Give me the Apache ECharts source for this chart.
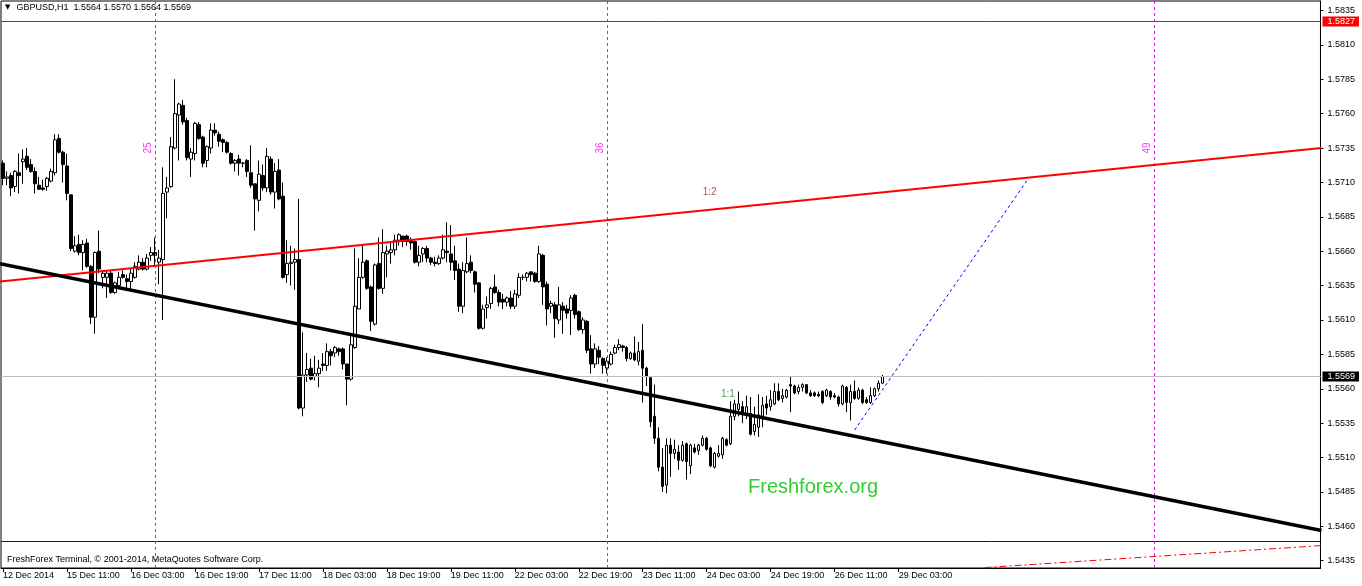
<!DOCTYPE html>
<html><head><meta charset="utf-8">
<script src="https://cdn.jsdelivr.net/npm/echarts@6/dist/echarts.min.js"></script>
<style>html,body{margin:0;padding:0;background:#fff}#c{width:1362px;height:586px}</style>
</head><body><div id="c"></div>
<script>
const symbolName = 'GBPUSD,H1';
// bars: [open, high, low, close]
const bars = [
[1.5724,1.5726,1.5708,1.5713],[1.5713,1.5718,1.5708,1.5714],[1.5715,1.5717,1.5700,1.5706],[1.5707,1.5719,1.5703,1.5718],
[1.5717,1.5731,1.5702,1.5715],[1.5725,1.5734,1.5709,1.5727],[1.5729,1.5735,1.5719,1.5721],[1.5723,1.5727,1.5717,1.5718],
[1.5718,1.5721,1.5702,1.5709],[1.5708,1.5714,1.5705,1.5705],[1.5706,1.5712,1.5704,1.5705],[1.5707,1.5714,1.5704,1.5713],
[1.5711,1.5720,1.5710,1.5718],[1.5717,1.5745,1.5715,1.5741],[1.5742,1.5745,1.5731,1.5732],[1.5732,1.5733,1.5710,1.5723],
[1.5722,1.5731,1.5697,1.5702],[1.5701,1.5701,1.5660,1.5662],[1.5660,1.5671,1.5659,1.5664],[1.5665,1.5672,1.5657,1.5659],
[1.5659,1.5668,1.5646,1.5665],[1.5666,1.5669,1.5648,1.5649],[1.5649,1.5650,1.5607,1.5612],[1.5612,1.5660,1.5600,1.5659],
[1.5660,1.5675,1.5644,1.5647],[1.5641,1.5646,1.5633,1.5644],[1.5641,1.5646,1.5626,1.5644],[1.5644,1.5646,1.5629,1.5630],
[1.5630,1.5638,1.5629,1.5637],[1.5635,1.5645,1.5634,1.5641],[1.5643,1.5646,1.5640,1.5641],[1.5640,1.5643,1.5633,1.5638],
[1.5638,1.5647,1.5632,1.5644],[1.5641,1.5652,1.5640,1.5649],[1.5647,1.5657,1.5646,1.5652],[1.5652,1.5655,1.5646,1.5647],
[1.5647,1.5658,1.5646,1.5655],[1.5657,1.5663,1.5653,1.5659],[1.5659,1.5670,1.5649,1.5657],[1.5652,1.5661,1.5636,1.5655],
[1.5654,1.5721,1.5610,1.5702],[1.5703,1.5714,1.5684,1.5706],[1.5707,1.5743,1.5706,1.5736],[1.5735,1.5785,1.5734,1.5760],
[1.5759,1.5768,1.5726,1.5767],[1.5766,1.5770,1.5752,1.5754],[1.5755,1.5757,1.5726,1.5728],[1.5727,1.5735,1.5714,1.5732],
[1.5731,1.5754,1.5726,1.5753],[1.5752,1.5754,1.5741,1.5742],[1.5743,1.5744,1.5721,1.5724],[1.5726,1.5737,1.5721,1.5736],
[1.5735,1.5753,1.5731,1.5748],[1.5748,1.5753,1.5744,1.5746],[1.5745,1.5747,1.5736,1.5740],[1.5741,1.5742,1.5732,1.5739],
[1.5739,1.5740,1.5731,1.5732],[1.5731,1.5732,1.5723,1.5724],[1.5724,1.5727,1.5718,1.5726],[1.5727,1.5730,1.5715,1.5724],
[1.5724,1.5725,1.5721,1.5724],[1.5726,1.5727,1.5714,1.5718],[1.5717,1.5737,1.5706,1.5708],[1.5709,1.5709,1.5675,1.5698],
[1.5697,1.5726,1.5689,1.5716],[1.5715,1.5723,1.5704,1.5706],[1.5706,1.5735,1.5703,1.5729],[1.5727,1.5729,1.5701,1.5703],
[1.5703,1.5724,1.5691,1.5718],[1.5719,1.5727,1.5697,1.5698],[1.5700,1.5710,1.5640,1.5641],[1.5643,1.5668,1.5637,1.5651],
[1.5651,1.5664,1.5635,1.5652],[1.5652,1.5662,1.5632,1.5654],[1.5654,1.5698,1.5545,1.5546],[1.5546,1.5601,1.5540,1.5570],
[1.5570,1.5586,1.5565,1.5574],[1.5575,1.5582,1.5566,1.5567],[1.5569,1.5584,1.5566,1.5571],[1.5571,1.5581,1.5561,1.5575],
[1.5578,1.5586,1.5573,1.5577],[1.5577,1.5593,1.5573,1.5587],[1.5587,1.5589,1.5577,1.5584],[1.5586,1.5591,1.5583,1.5590],
[1.5589,1.5590,1.5584,1.5587],[1.5589,1.5590,1.5574,1.5578],[1.5578,1.5578,1.5548,1.5567],[1.5567,1.5599,1.5566,1.5592],
[1.5590,1.5662,1.5589,1.5620],[1.5618,1.5655,1.5618,1.5641],[1.5641,1.5665,1.5640,1.5652],[1.5653,1.5654,1.5632,1.5633],
[1.5634,1.5635,1.5602,1.5609],[1.5607,1.5651,1.5606,1.5650],[1.5651,1.5670,1.5632,1.5633],[1.5633,1.5676,1.5629,1.5659],
[1.5658,1.5664,1.5641,1.5660],[1.5659,1.5667,1.5651,1.5661],[1.5661,1.5672,1.5657,1.5668],[1.5668,1.5673,1.5664,1.5672],
[1.5671,1.5671,1.5663,1.5667],[1.5671,1.5672,1.5664,1.5667],[1.5668,1.5670,1.5661,1.5666],[1.5667,1.5668,1.5651,1.5652],
[1.5652,1.5664,1.5649,1.5657],[1.5658,1.5663,1.5652,1.5662],[1.5662,1.5664,1.5652,1.5655],[1.5655,1.5656,1.5650,1.5652],
[1.5652,1.5656,1.5649,1.5651],[1.5651,1.5657,1.5650,1.5655],[1.5655,1.5672,1.5654,1.5661],[1.5660,1.5681,1.5652,1.5659],
[1.5658,1.5679,1.5646,1.5652],[1.5653,1.5664,1.5639,1.5646],[1.5647,1.5651,1.5616,1.5620],[1.5620,1.5652,1.5615,1.5646],
[1.5645,1.5670,1.5644,1.5651],[1.5652,1.5657,1.5644,1.5646],[1.5645,1.5646,1.5630,1.5636],[1.5637,1.5637,1.5603,1.5604],
[1.5604,1.5621,1.5603,1.5618],[1.5619,1.5627,1.5611,1.5621],[1.5622,1.5634,1.5618,1.5633],[1.5634,1.5643,1.5629,1.5630],
[1.5630,1.5632,1.5620,1.5623],[1.5625,1.5629,1.5618,1.5623],[1.5623,1.5627,1.5620,1.5626],[1.5626,1.5631,1.5618,1.5620],
[1.5620,1.5632,1.5618,1.5629],[1.5628,1.5644,1.5626,1.5641],[1.5641,1.5643,1.5639,1.5641],[1.5641,1.5645,1.5638,1.5644],
[1.5645,1.5645,1.5638,1.5643],[1.5644,1.5645,1.5637,1.5638],[1.5638,1.5664,1.5637,1.5658],[1.5657,1.5658,1.5621,1.5634],
[1.5636,1.5638,1.5606,1.5618],[1.5620,1.5624,1.5615,1.5622],[1.5621,1.5623,1.5597,1.5611],[1.5610,1.5634,1.5607,1.5621],
[1.5620,1.5623,1.5600,1.5617],[1.5618,1.5621,1.5611,1.5615],[1.5617,1.5628,1.5599,1.5626],[1.5628,1.5629,1.5611,1.5614],
[1.5616,1.5617,1.5602,1.5603],[1.5603,1.5612,1.5600,1.5610],[1.5609,1.5610,1.5586,1.5588],[1.5589,1.5599,1.5571,1.5578],
[1.5578,1.5593,1.5575,1.5589],[1.5588,1.5591,1.5578,1.5583],[1.5582,1.5583,1.5571,1.5577],[1.5575,1.5583,1.5571,1.5580],
[1.5578,1.5587,1.5577,1.5585],[1.5586,1.5592,1.5585,1.5590],[1.5590,1.5596,1.5588,1.5592],[1.5591,1.5592,1.5587,1.5590],
[1.5590,1.5591,1.5580,1.5582],[1.5582,1.5587,1.5581,1.5586],[1.5586,1.5598,1.5580,1.5581],[1.5580,1.5594,1.5577,1.5587],
[1.5588,1.5607,1.5550,1.5575],[1.5575,1.5576,1.5562,1.5569],[1.5568,1.5569,1.5532,1.5536],[1.5540,1.5563,1.5520,1.5524],
[1.5524,1.5532,1.5500,1.5503],[1.5503,1.5517,1.5485,1.5489],[1.5490,1.5524,1.5484,1.5519],[1.5519,1.5524,1.5496,1.5513],
[1.5513,1.5523,1.5509,1.5516],[1.5514,1.5519,1.5501,1.5508],[1.5508,1.5522,1.5507,1.5519],[1.5520,1.5521,1.5494,1.5507],
[1.5504,1.5520,1.5498,1.5519],[1.5517,1.5520,1.5513,1.5514],[1.5515,1.5520,1.5512,1.5519],[1.5519,1.5526,1.5518,1.5524],
[1.5524,1.5525,1.5515,1.5516],[1.5517,1.5518,1.5503,1.5504],[1.5503,1.5514,1.5502,1.5513],[1.5511,1.5519,1.5510,1.5513],
[1.5512,1.5525,1.5509,1.5524],[1.5523,1.5524,1.5518,1.5519],[1.5520,1.5551,1.5519,1.5540],[1.5540,1.5552,1.5537,1.5549],
[1.5545,1.5558,1.5540,1.5549],[1.5547,1.5551,1.5535,1.5542],[1.5541,1.5555,1.5538,1.5547],[1.5542,1.5554,1.5526,1.5527],
[1.5529,1.5547,1.5526,1.5534],[1.5532,1.5556,1.5525,1.5541],[1.5540,1.5554,1.5532,1.5548],[1.5549,1.5555,1.5541,1.5546],
[1.5547,1.5559,1.5544,1.5552],[1.5549,1.5564,1.5548,1.5558],[1.5558,1.5564,1.5551,1.5552],[1.5553,1.5560,1.5550,1.5555],
[1.5554,1.5560,1.5553,1.5559],[1.5563,1.5569,1.5543,1.5562],[1.5562,1.5563,1.5556,1.5557],[1.5558,1.5563,1.5556,1.5561],
[1.5561,1.5564,1.5558,1.5563],[1.5563,1.5563,1.5556,1.5557],[1.5557,1.5559,1.5554,1.5555],[1.5557,1.5558,1.5554,1.5555],
[1.5556,1.5558,1.5554,1.5555],[1.5558,1.5559,1.5549,1.5550],[1.5555,1.5560,1.5554,1.5559],[1.5558,1.5559,1.5552,1.5554],
[1.5555,1.5557,1.5553,1.5554],[1.5554,1.5555,1.5547,1.5549],[1.5549,1.5563,1.5548,1.5562],[1.5561,1.5562,1.5543,1.5550],
[1.5550,1.5563,1.5537,1.5558],[1.5558,1.5566,1.5552,1.5553],[1.5553,1.5561,1.5552,1.5559],[1.5559,1.5560,1.5549,1.5550],
[1.5552,1.5554,1.5549,1.5550],[1.5550,1.5561,1.5549,1.5555],[1.5555,1.5561,1.5554,1.5560],[1.5560,1.5566,1.5558,1.5564],
[1.5564,1.5570,1.5564,1.5569]
];
const timeLabels = ['12 Dec 2014','15 Dec 11:00','16 Dec 03:00','16 Dec 19:00','17 Dec 11:00','18 Dec 03:00','18 Dec 19:00',
  '19 Dec 11:00','22 Dec 03:00','22 Dec 19:00','23 Dec 11:00','24 Dec 03:00','24 Dec 19:00','26 Dec 11:00','29 Dec 03:00'];
const labelEvery = 16;
const totalSlots = 330;
const priceTicks = [1.5435,1.5460,1.5485,1.5510,1.5535,1.5560,1.5585,1.5610,1.5635,1.5660,1.5685,1.5710,1.5735,1.5760,1.5785,1.5810,1.5835];
const priceMin = 1.54297, priceMax = 1.58419;
const alertLevel = 1.5827;
const supportLevel = 1.5449;
const bidPrice = 1.5569;
// trend objects: [bar index, price]
const redTrend = [[-0.75, 1.5638], [329.75, 1.5735]];
const blackTrend = [[-0.75, 1.5651], [329.75, 1.5457]];
const blueProjection = [[213, 1.5530], [256, 1.5711]];
const redDashDot = [[245.5, 1.5430], [329.75, 1.5446]];
const cycleBars = [38, 151, 288];
const cycleLabels = ['25', '36', '49'];
const cycleLabelPrice = 1.5735;
const notes = [{text: '1:2', at: [176.75, 1.5703], color: '#B22222'}, {text: '1:1', at: [181.3, 1.5556], color: '#228B22'}];

const FONT = 'Liberation Sans, Arial, sans-serif';
const last = bars[bars.length - 1];
const cats = Array.from({length: totalSlots}, (_, i) => String(i));
const showIdx = (i) => i % labelEvery === 0 && i / labelEvery < timeLabels.length;
const xLo = -0.5, xHi = totalSlots - 0.5;

const chart = echarts.init(document.getElementById('c'), null, {renderer: 'canvas'});
const lineSeries = (name, data, style, z) => ({
  name, type: 'line', xAxisIndex: 1, data, symbol: 'none', silent: true, z: z || 5,
  color: style.color, itemStyle: {color: style.color},
  lineStyle: Object.assign({opacity: 1}, style), emphasis: {disabled: true}, animation: false
});
const levelLine = (price, color) => ({yAxis: price, lineStyle: {color: color, width: 1, type: 'solid', opacity: 1}});
const markHolder = (name, color, z, markLine) => Object.assign(lineSeries(name, [[xLo, null]], {color: color, width: 0}, z), {markLine});

chart.setOption({
  animation: false,
  backgroundColor: '#fff',
  title: [
    {text: '{t|▼}' + symbolName + '  ' + last.map(v => v.toFixed(4)).join(' '), left: 5, top: 3, padding: 0,
     textStyle: {fontFamily: FONT, fontSize: 9, fontWeight: 'normal', color: '#000',
       rich: {t: {fontSize: 7, color: '#000', fontFamily: 'DejaVu Sans', padding: [0, 6, 0, 0]}}}},
    {text: 'FreshForex Terminal, © 2001-2014, MetaQuotes Software Corp.', left: 7, top: 555, padding: 0,
     textStyle: {fontFamily: FONT, fontSize: 9, fontWeight: 'normal', color: '#000'}},
    {text: 'Freshforex.org', left: 748, top: 477, padding: 0,
     textStyle: {fontFamily: FONT, fontSize: 20, fontWeight: 'normal', color: '#32CD32'}}
  ],
  grid: {left: 1, right: 40, top: 1, bottom: 18, show: true, borderColor: '#000', borderWidth: 1, backgroundColor: '#fff'},
  xAxis: [
    {type: 'category', data: cats, boundaryGap: true, position: 'bottom',
     axisLine: {show: true, onZero: false, lineStyle: {color: '#000'}},
     axisTick: {show: true, alignWithLabel: true, interval: showIdx, length: 4, lineStyle: {color: '#000'}},
     axisLabel: {interval: showIdx, align: 'left', margin: 3, fontFamily: FONT, fontSize: 9, color: '#000',
       formatter: (v, i) => timeLabels[i / labelEvery] || ''},
     splitLine: {show: false}},
    {type: 'value', min: xLo, max: xHi, show: false, axisLine: {onZero: false}}
  ],
  yAxis: {
    type: 'value', position: 'right', min: priceMin, max: priceMax, scale: true,
    axisLine: {show: true, onZero: false, lineStyle: {color: '#000'}},
    axisTick: {show: true, customValues: priceTicks, length: 3, lineStyle: {color: '#000'}},
    axisLabel: {
      customValues: priceTicks.concat([alertLevel, bidPrice]), margin: 2,
      formatter: (v) => {
        const s = v.toFixed(4);
        if (Math.abs(v - alertLevel) < 1e-7) return '{r|' + s + '}';
        if (Math.abs(v - bidPrice) < 1e-7) return '{b|' + s + '}';
        return '{n|' + s + '}';
      },
      rich: {
        n: {fontFamily: FONT, fontSize: 9, color: '#000', padding: [0, 0, 0, 5]},
        r: {fontFamily: FONT, fontSize: 9, color: '#fff', backgroundColor: '#FF0000', padding: [1, 4, 0, 5]},
        b: {fontFamily: FONT, fontSize: 9, color: '#fff', backgroundColor: '#000', padding: [1, 4, 0, 5]}
      }
    },
    splitLine: {show: false}
  },
  series: [
    markHolder('bidLine', '#C0C0C0', 2, {symbol: 'none', silent: true, animation: false, precision: 4, label: {show: false},
      data: [levelLine(bidPrice, '#C0C0C0')]}),
    {name: symbolName, type: 'candlestick', xAxisIndex: 0, barWidth: 3, z: 3,
     data: bars.map(b => [b[0], b[3], b[2], b[1]]),
     itemStyle: {color: '#fff', color0: '#000', borderColor: '#000', borderColor0: '#000', borderWidth: 1}},
    markHolder('levels', '#FF0000', 4, {symbol: 'none', silent: true, animation: false, precision: 4, label: {show: false},
      data: [levelLine(alertLevel, '#FF0000'), levelLine(supportLevel, '#0000FF')]}),
    markHolder('cycles', '#FF00FF', 4, {symbol: 'none', silent: true, animation: false, label: {show: false},
      lineStyle: {color: '#FF00FF', width: 1, type: [3, 3]},
      data: cycleBars.map(x => ({xAxis: x}))}),
    lineSeries('redTrend', redTrend, {color: '#FF0000', width: 2}),
    lineSeries('blackTrend', blackTrend, {color: '#000000', width: 3.5}),
    lineSeries('blueProjection', blueProjection, {color: '#0000FF', width: 1, type: [3, 3]}),
    lineSeries('redDashDot', redDashDot, {color: '#FF0000', width: 1, type: [7, 3, 2, 3]}),
    {name: 'cycleText', type: 'scatter', xAxisIndex: 1, symbolSize: 0, silent: true, z: 6,
     data: cycleBars.map((x, i) => ({value: [x, cycleLabelPrice], label: {formatter: cycleLabels[i]}})),
     label: {show: true, position: 'inside', rotate: 90, offset: [0, -7], color: '#FF00FF', fontFamily: FONT, fontSize: 10}},
    {name: 'notes', type: 'scatter', xAxisIndex: 1, symbolSize: 0, silent: true, z: 6,
     data: notes.map(n => ({value: n.at, label: {formatter: n.text, color: n.color}})),
     label: {show: true, position: 'inside', fontFamily: FONT, fontSize: 10}}
  ]
});
</script></body></html>
